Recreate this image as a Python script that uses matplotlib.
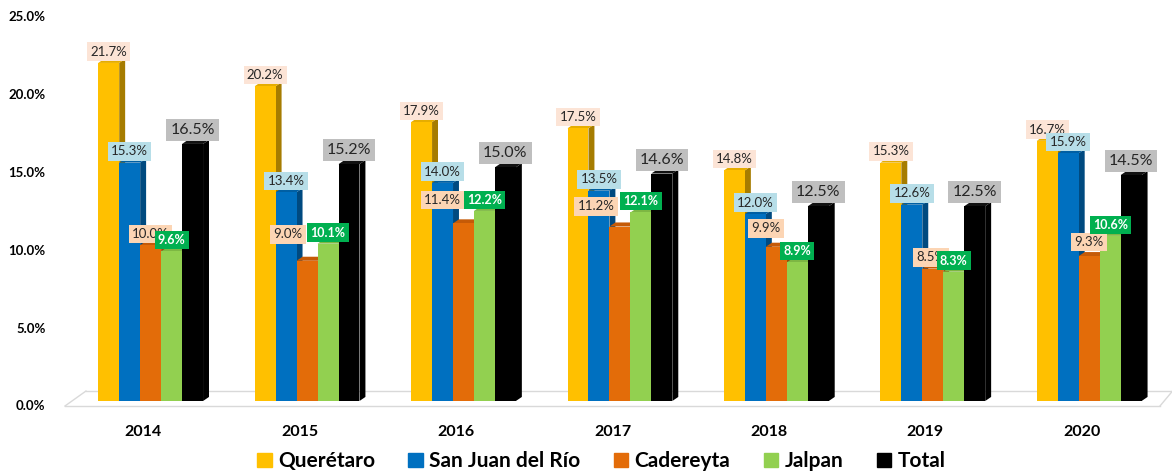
import matplotlib.pyplot as plt
import matplotlib.transforms as mtransforms
from matplotlib.patches import Patch
import numpy as np

plt.rcParams['font.family'] = ['Lato', 'DejaVu Sans']

years = ['2014', '2015', '2016', '2017', '2018', '2019', '2020']
series = ['Querétaro', 'San Juan del Río', 'Cadereyta', 'Jalpan', 'Total']
queretaro = [21.7, 20.2, 17.9, 17.5, 14.8, 15.3, 16.7]
san_juan = [15.3, 13.4, 14.0, 13.5, 12.0, 12.6, 15.9]
cadereyta = [10.0, 9.0, 11.4, 11.2, 9.9, 8.5, 9.3]
jalpan = [9.6, 10.1, 12.2, 12.1, 8.9, 8.3, 10.6]
total = [16.5, 15.2, 15.0, 14.6, 12.5, 12.5, 14.5]
values = [queretaro, san_juan, cadereyta, jalpan, total]

front = ['#FFC000', '#0070C0', '#E36C09', '#92D050', '#000000']
side = ['#A67C00', '#004A80', '#9A4906', '#62903A', '#000000']
top = ['#E6AD00', '#005FA3', '#C55A07', '#7DB743', '#111111']

# label boxes: facecolor, text colour, size, bold
lab_face = ['#FCE4D6', '#B7DEE8', '#FCD5B4', '#00B050', '#BFBFBF']
lab_text = ['#262626', '#262626', '#262626', 'white', '#262626']
lab_size = [9.5, 9.5, 9.5, 9, 11.5]
lab_bold = [False, False, False, True, False]
# orange labels were pushed left/up by excel (pixels)
cad_dx = [0, -19, -21, -24, -10, -2, 0]
cad_dy = [0, 15, 12, 9, 7, 0, 3]

fig = plt.figure(figsize=(11.72, 4.71), dpi=100)
ax = fig.add_axes([65/1172, 70/471, 1095/1172, 389.5/471])

x = np.arange(len(years))
w = 0.134
start = -0.2875
dx = 0.038   # depth of the 3d bars
dy = 0.26
px = 0.72    # points per pixel

for k, vals in enumerate(values):
    left = x + start + k*w
    for xl, v in zip(left, vals):
        ax.fill([xl + w, xl + w + dx, xl + w + dx, xl + w],
                [0, dy, v + dy, v], color=side[k], zorder=2 + 2*k, lw=0)
        ax.fill([xl, xl + dx, xl + w + dx, xl + w],
                [v, v + dy, v + dy, v], color=top[k], zorder=2 + 2*k, lw=0)
    ax.bar(left, vals, width=w, align='edge', color=front[k], zorder=3 + 2*k, lw=0)

for k, vals in enumerate(values):
    centers = x + start + (k + 0.5)*w
    for i, (c, v) in enumerate(zip(centers, vals)):
        ox, oy = 0, 2
        if k == 2:
            ox, oy = cad_dx[i], 2 + cad_dy[i]
        if k == 4:
            oy = 3
        pad = 0.25
        ax.annotate('%.1f%%' % v, (c, v), xytext=(ox*px, oy*px + pad*lab_size[k]),
                    textcoords='offset points', ha='center', va='bottom',
                    fontsize=lab_size[k], color=lab_text[k],
                    fontweight='bold' if lab_bold[k] else 'normal',
                    bbox=dict(boxstyle='square,pad=%.2f' % pad, fc=lab_face[k], ec='none'),
                    zorder=20 + k)

# floor of the 3d chart
fl = dict(color='#D9D9D9', lw=1, clip_on=False, zorder=1)
ax.plot([-0.5, 6.5], [-0.32, -0.32], **fl)
ax.plot([-0.366, 6.58], [0.64, 0.64], **fl)
ax.plot([-0.5, -0.366], [-0.32, 0.64], **fl)
ax.plot([6.5, 6.58], [-0.32, 0.64], **fl)

ax.set_xlim(-0.5, 6.5)
ax.set_ylim(0, 25)
ax.set_yticks(np.arange(0, 26, 5))
ax.set_yticklabels(['%.1f%%' % t for t in np.arange(0, 26, 5)], fontsize=9.5, fontweight='bold')
ax.set_xticks(x)
ax.set_xticklabels(years, fontsize=11.5, fontweight='bold')
ax.tick_params(length=0)
ax.tick_params(axis='y', pad=14)
ax.tick_params(axis='x', pad=17)
for s in ax.spines.values():
    s.set_visible(False)

shift = mtransforms.ScaledTranslation(0, -4.5/100, fig.dpi_scale_trans)
for lab in ax.get_yticklabels():
    lab.set_transform(lab.get_transform() + shift)

handles = [Patch(color=c, label=n) for c, n in zip(front, series)]
fig.legend(handles=handles, loc='center', bbox_to_anchor=(0.513, 0.021), ncol=5,
           frameon=False, prop={'size': 15, 'weight': 'bold'},
           handlelength=0.7, handleheight=0.7, handletextpad=0.3, columnspacing=1.6)

fig.savefig('out.png', dpi=100)
